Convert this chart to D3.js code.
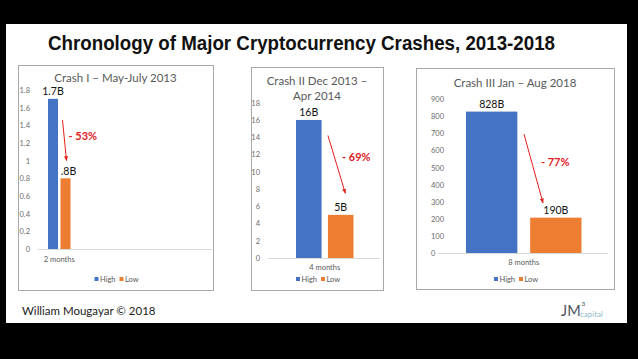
<!DOCTYPE html>
<html>
<head>
<meta charset="utf-8">
<script src="https://cdn.jsdelivr.net/npm/d3@7"></script>
<style>
  html, body { margin: 0; padding: 0; background: #000; }
  svg { display: block; }
  .panel-title { font-family: Lato, sans-serif; fill: #595959; }
  .tick text { font-family: Lato, sans-serif; fill: #6b6b6b; }
</style>
</head>
<body>
<div class="chartWrapper"></div>
<script>
const width = 638, height = 359;

// chart values
const crashTitles = [["Crash I – May-July 2013"], ["Crash II Dec 2013 –", "Apr 2014"], ["Crash III Jan – Aug 2018"]];
const periods = ["2 months", "4 months", "8 months"];
const series = ["High", "Low"];
const highs = [1.7, 16, 828];
const lows = [0.8, 5, 207];
const highLabels = ["1.7B", "16B", "828B"];
const lowLabels = [".8B", "5B", "190B"];
const drops = ["- 53%", "- 69%", "- 77%"];
const yMaxes = [1.8, 18, 900];
const yTicks = [
  [0, 0.2, 0.4, 0.6, 0.8, 1, 1.2, 1.4, 1.6, 1.8],
  [0, 2, 4, 6, 8, 10, 12, 14, 16, 18],
  [0, 100, 200, 300, 400, 500, 600, 700, 800, 900]
];
// arrow start/end and drop label height, in value units of each panel
const arrowFrom = [1.46, 14.2, 696];
const arrowTo = [1.0, 7.5, 293];
const dropAt = [1.23, 11.3, 510];

const colors = { High: "#4472c4", Low: "#ed7d31" };
const red = "#e0201c";

// layout of the three panels
const panels = [
  { box: [18, 65, 213, 290], y: [249, 90], group: [48, 70.5], axisX: 30, anchor: "end", gridX: [38, 212],
    titleY: [82], catY: 262, legendY: 279, arrowDx: [0.2, 0.6], dropDx: 0.8, lowLabelDx: 3 },
  { box: [251, 67, 383, 290], y: [258, 102.7], group: [296, 353.5], axisX: 260, anchor: "end", gridX: [268, 380],
    titleY: [85, 99.5], catY: 270, legendY: 279, arrowDx: [0, 0.68], dropDx: 0.55, lowLabelDx: 0 },
  { box: [416, 68, 614, 289], y: [253, 99.3], group: [466, 581.5], axisX: 431, anchor: "start", gridX: [438, 608],
    titleY: [87], catY: 265, legendY: 279, arrowDx: [-0.12, 0.25], dropDx: 0.21, lowLabelDx: 0 }
];

const svg = d3.select(".chartWrapper").append("svg")
    .attr("width", width)
    .attr("height", height);

svg.append("rect").attr("width", width).attr("height", height).attr("fill", "#000");
svg.append("rect")
    .attr("x", 6).attr("y", 24)
    .attr("width", 621).attr("height", 299)
    .attr("fill", "#fff");

svg.append("defs").append("marker")
    .attr("id", "arrowHead")
    .attr("viewBox", "0 0 10 10")
    .attr("refX", 9).attr("refY", 5)
    .attr("markerWidth", 5).attr("markerHeight", 5)
    .attr("orient", "auto")
  .append("path")
    .attr("d", "M0,1 L10,5 L0,9 z")
    .attr("fill", red);

svg.append("text")
    .attr("x", 48).attr("y", 50)
    .attr("textLength", 507)
    .attr("lengthAdjust", "spacingAndGlyphs")
    .style("font-family", "'Liberation Sans', Arial, sans-serif")
    .style("font-size", "19.5px")
    .style("font-weight", "bold")
    .attr("fill", "#111")
    .text("Chronology of Major Cryptocurrency Crashes, 2013-2018");

panels.forEach((p, i) => {
  const g = svg.append("g");
  const [bx0, by0, bx1, by1] = p.box;
  const cx = (bx0 + bx1) / 2;

  g.append("rect")
      .attr("x", bx0 + 0.5).attr("y", by0 + 0.5)
      .attr("width", bx1 - bx0).attr("height", by1 - by0)
      .attr("fill", "#fff")
      .attr("stroke", "#a9a9a9")
      .attr("stroke-width", 1);

  crashTitles[i].forEach((line, j) => {
    g.append("text")
        .attr("class", "panel-title")
        .attr("x", cx).attr("y", p.titleY[j])
        .attr("text-anchor", "middle")
        .style("font-size", "11.5px")
        .text(line);
  });

  const y = d3.scaleLinear().domain([0, yMaxes[i]]).range(p.y);
  const x0 = d3.scaleBand().domain([periods[i]]).range(p.group);
  const x1 = d3.scaleBand().domain(series).range([0, x0.bandwidth()]).paddingInner(0.2);

  const axis = d3.axisLeft(y)
      .tickValues(yTicks[i])
      .tickSize(0)
      .tickPadding(0)
      .tickFormat(d => +d.toFixed(1));

  const axisG = g.append("g")
      .attr("transform", `translate(${p.axisX},0)`)
      .call(axis);
  axisG.select(".domain").remove();
  axisG.selectAll("text")
      .attr("x", 0)
      .attr("text-anchor", p.anchor)
      .style("font-size", "7.5px");

  g.append("line")
      .attr("x1", p.gridX[0]).attr("x2", p.gridX[1])
      .attr("y1", y(0) + 0.5).attr("y2", y(0) + 0.5)
      .attr("stroke", "#d9d9d9");

  const vals = { High: highs[i], Low: lows[i] };
  const labels = { High: highLabels[i], Low: lowLabels[i] };
  const grp = g.append("g").attr("transform", `translate(${x0(periods[i])},0)`);

  grp.selectAll("rect.bar")
    .data(series)
    .join("rect")
      .attr("class", "bar")
      .attr("x", d => x1(d))
      .attr("y", d => y(vals[d]))
      .attr("width", x1.bandwidth())
      .attr("height", d => y(0) - y(vals[d]))
      .attr("fill", d => colors[d]);

  grp.selectAll("text.val")
    .data(series)
    .join("text")
      .attr("class", "val")
      .attr("x", d => x1(d) + x1.bandwidth() / 2 + (d === "Low" ? p.lowLabelDx : 0))
      .attr("y", d => y(vals[d]) - 3.5)
      .attr("text-anchor", "middle")
      .style("font-family", "Lato, sans-serif")
      .style("font-size", "10.5px")
      .attr("fill", "#111")
      .text(d => labels[d]);

  const lowX = x1("Low"), bw = x1.bandwidth();
  grp.append("line")
      .attr("x1", lowX + p.arrowDx[0] * bw).attr("y1", y(arrowFrom[i]))
      .attr("x2", lowX + p.arrowDx[1] * bw).attr("y2", y(arrowTo[i]))
      .attr("stroke", red)
      .attr("stroke-width", 1)
      .attr("marker-end", "url(#arrowHead)");

  grp.append("text")
      .attr("x", lowX + p.dropDx * bw)
      .attr("y", y(dropAt[i]))
      .style("font-family", "Lato, sans-serif")
      .style("font-size", "11px")
      .style("font-weight", "bold")
      .attr("fill", red)
      .text(drops[i]);

  g.append("text")
      .attr("x", x0(periods[i]) + x0.bandwidth() / 2)
      .attr("y", p.catY)
      .attr("text-anchor", "middle")
      .style("font-family", "Lato, sans-serif")
      .style("font-size", "7.5px")
      .attr("fill", "#595959")
      .text(periods[i]);

  // legend
  const legend = g.append("g").attr("transform", `translate(${cx},${p.legendY})`);
  const items = legend.selectAll("g")
    .data(series)
    .join("g")
      .attr("transform", (d, k) => `translate(${k === 0 ? -21 : 4},0)`);
  items.append("rect")
      .attr("x", 0).attr("y", -2)
      .attr("width", 4).attr("height", 4)
      .attr("fill", d => colors[d]);
  items.append("text")
      .attr("x", 5.5).attr("y", 2.6)
      .style("font-family", "Lato, sans-serif")
      .style("font-size", "7.5px")
      .attr("fill", "#595959")
      .text(d => d);
});

svg.append("text")
    .attr("x", 22).attr("y", 315)
    .style("font-family", "Lato, sans-serif")
    .style("font-size", "11.5px")
    .attr("fill", "#222")
    .text("William Mougayar © 2018");

const logo = svg.append("text")
    .attr("x", 561).attr("y", 316)
    .style("font-family", "Lato, sans-serif")
    .attr("fill", "#4d5560");
logo.append("tspan").style("font-size", "14.5px").text("JM");
logo.append("tspan").attr("dx", 1).attr("dy", -10).style("font-size", "6.5px").text("3");
svg.append("text")
    .attr("x", 580).attr("y", 317)
    .style("font-family", "Lato, sans-serif")
    .style("font-size", "8px")
    .attr("fill", "#8fb9c9")
    .text("capital");
</script>
</body>
</html>
